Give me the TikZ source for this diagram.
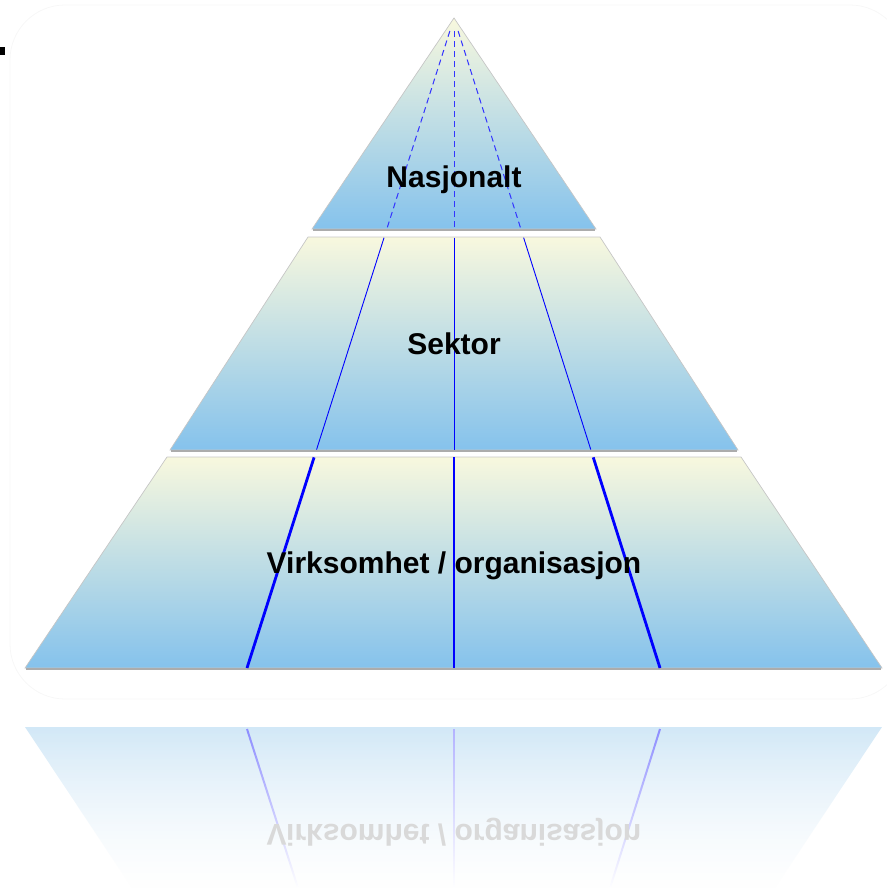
\documentclass[tikz,border=0pt]{standalone}
\usepackage{fontspec}
\setmainfont{Liberation Sans}
\usetikzlibrary{calc,fadings}

\definecolor{bandtop}{RGB}{248,248,222}
\definecolor{bandbot}{RGB}{133,194,236}
\definecolor{reflecttop}{RGB}{210,232,247}

\tikzset{
    band/.style={draw=gray!45, line width=0.7pt, top color=bandtop, bottom color=bandbot},
    bandedge/.style={draw=gray!65, line width=1.8pt},
    guidedash/.style={blue!80, line width=1pt, dash pattern=on 6pt off 4pt},
    guidethin/.style={blue, line width=0.9pt},
    guidethick/.style={blue, line width=2.8pt},
    label/.style={font=\fontsize{30}{36}\selectfont\bfseries, text=black}
}

\begin{document}
\begin{tikzpicture}[x=1pt, y=-1pt]
    \useasboundingbox (0,0) rectangle (886,888);

    % Faint frame behind the pyramid
    \draw[gray!6, line width=0.8pt, rounded corners=55pt] (10,5) rectangle (905,699);
    \fill[black] (0,47) rectangle (5,55);

    % Reflection below the pyramid
    \shade[top color=reflecttop, bottom color=reflecttop!40] (25,727) -- (882,727) -- (775,888) -- (132,888) -- cycle;
    \draw[blue!45, line width=2pt] (247,729) -- (298,888);
    \draw[blue!30, line width=1.6pt] (454,729) -- (454,888);
    \draw[blue!45, line width=2pt] (660,729) -- (610,888);
    \fill[white, path fading=north] (0,727) rectangle (886,888);
    \begin{scope}[shift={(454,832)}, yscale=-1]
        \node[label, text=gray!30, transform shape] (virkrefl) at (0,0) {Virksomhet / organisasjon};
    \end{scope}

    % Pyramid bands
    \coordinate (apex) at (454,18);
    \shade[band] (apex) -- (596,229) -- (312,229) -- cycle;
    \shade[band] (308,237) -- (600,237) -- (738,450) -- (170,450) -- cycle;
    \shade[band] (167,457) -- (741,457) -- (882,668) -- (25,668) -- cycle;

    % Shadow edges under each band
    \draw[bandedge] (313,230) -- (595,230);
    \draw[bandedge] (171,451) -- (737,451);
    \draw[bandedge] (26,669) -- (881,669);

    % Guide lines from the apex
    \foreach \bx in {247,454,660} {
        \coordinate (base) at (\bx,668);
        \draw[guidedash] ($(apex)!0.02!(base)$) -- ($(apex)!0.323!(base)$);
        \draw[guidethin] ($(apex)!0.338!(base)$) -- ($(apex)!0.664!(base)$);
        \draw[guidethick] ($(apex)!0.676!(base)$) -- (base);
    }

    % Labels
    \node[label] (nasjonalt) at (454,180) {Nasjonalt};
    \node[label] (sektor) at (454,344) {Sektor};
    \node[label] (virksomhet) at (454,566) {Virksomhet / organisasjon};

\end{tikzpicture}
\end{document}
